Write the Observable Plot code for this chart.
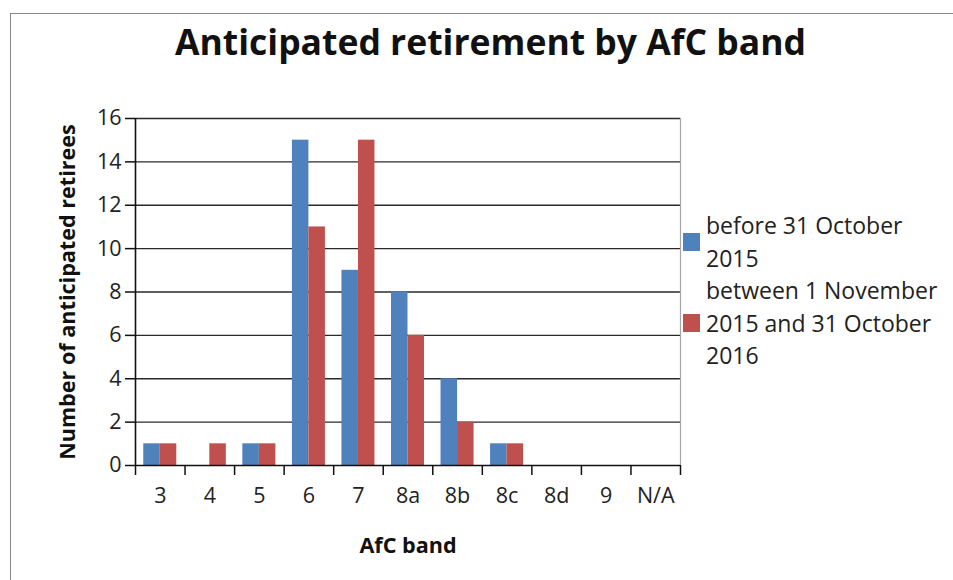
<!DOCTYPE html>
<html>
<head>
<meta charset="utf-8">
<script src="https://cdn.jsdelivr.net/npm/d3@7"></script>
<script src="https://cdn.jsdelivr.net/npm/@observablehq/plot@0.6"></script>
<style>
  html, body { margin: 0; padding: 0; background: #fff; overflow: hidden; width: 953px; height: 580px; }
  body { font-family: "Open Sans", sans-serif; color: #222; position: relative; }
  #frame { position: absolute; left: 10px; top: 13px; width: 1000px; height: 1000px; border: 1px solid #888; }
  #title { position: absolute; left: 0; width: 981px; top: 17px; text-align: center; font-weight: bold; font-size: 35.5px; line-height: 48px; color: #111; }
  #chart { position: absolute; left: 0; top: 0; }
  #legend { position: absolute; left: 683px; top: 209px; font-size: 23px; line-height: 32.5px; color: #222; white-space: nowrap; }
  .item { display: flex; align-items: center; }
  .sw { width: 17px; height: 18px; margin-right: 6px; flex: none; }
  #chart svg text { font-size: 21.5px !important; fill: #222; }
  #chart svg g[aria-label="y-axis label"] text, #chart svg g[aria-label="x-axis label"] text { font-weight: bold; font-size: 21.6px !important; fill: #111; }
</style>
</head>
<body>
<div id="frame"></div>
<div id="chart"></div>
<div id="title">Anticipated retirement by AfC band</div>
<div id="legend"></div>
<script>
const bands = ["3", "4", "5", "6", "7", "8a", "8b", "8c", "8d", "9", "N/A"];
const before2015 = [1, 0, 1, 15, 9, 8, 4, 1, 0, 0, 0];
const between2015and2016 = [1, 1, 1, 11, 15, 6, 2, 1, 0, 0, 0];
const seriesNames = ["before 31 October 2015", "between 1 November 2015 and 31 October 2016"];
const seriesLegendLines = [["before 31 October", "2015"], ["between 1 November", "2015 and 31 October", "2016"]];
const seriesColors = ["#4F81BD", "#C0504D"];
const yTicks = [0, 2, 4, 6, 8, 10, 12, 14, 16];
const titleText = "Anticipated retirement by AfC band";
const xLabel = "AfC band";
const yLabel = "Number of anticipated retirees";

const seriesValues = [before2015, between2015and2016];
const rows = [];
bands.forEach((b, i) => {
  seriesValues.forEach((vals, s) => {
    rows.push({band: b, index: i, s, series: seriesNames[s], value: vals[i]});
  });
});

// group occupies the middle two thirds of each band slot
const barX1 = d => d.index + 1 / 6 + d.s / 3;
const barX2 = d => d.index + 1 / 6 + (d.s + 1) / 3;

const chart = Plot.plot({
  width: 953,
  height: 580,
  marginLeft: 135,
  marginRight: 273,
  marginTop: 118,
  marginBottom: 115,
  style: {fontFamily: "'Open Sans', sans-serif", fontSize: "21px", color: "#222", background: "transparent"},
  x: {domain: [0, bands.length]},
  y: {domain: [0, 16]},
  color: {domain: seriesNames, range: seriesColors},
  marks: [
    Plot.ruleY(yTicks.filter(t => t > 0), {stroke: "#2a2a2a", strokeWidth: 1.4}),
    Plot.ruleX([bands.length], {stroke: "#a6a6a6", strokeWidth: 1.2}),
    Plot.rect(rows.filter(d => d.value > 0), {x1: barX1, x2: barX2, y1: () => 0, y2: "value", fill: "series"}),
    Plot.ruleY([0], {stroke: "#111", strokeWidth: 1.6}),
    Plot.ruleX([0], {stroke: "#111", strokeWidth: 1.6}),
    Plot.axisY({ticks: yTicks, tickSize: 10, tickPadding: 4, stroke: "#111", strokeWidth: 1.5,
      label: yLabel, labelAnchor: "center", labelArrow: "none", labelOffset: 76}),
    Plot.axisX({ticks: d3.range(bands.length + 1), tickFormat: () => "", tickSize: 10, stroke: "#111", strokeWidth: 1.5, label: null}),
    Plot.axisX({ticks: bands.map((b, i) => i + 0.5), tickFormat: t => bands[Math.floor(t)], tickSize: 0, tickPadding: 22,
      label: xLabel, labelAnchor: "center", labelArrow: "none", labelOffset: 87})
  ]
});
document.getElementById("chart").appendChild(chart);

const legend = document.getElementById("legend");
seriesLegendLines.forEach((lines, s) => {
  const item = document.createElement("div");
  item.className = "item";
  const sw = document.createElement("div");
  sw.className = "sw";
  sw.style.background = seriesColors[s];
  const txt = document.createElement("div");
  txt.innerHTML = lines.join("<br>");
  item.appendChild(sw);
  item.appendChild(txt);
  legend.appendChild(item);
});
document.getElementById("title").textContent = titleText;
</script>
</body>
</html>
